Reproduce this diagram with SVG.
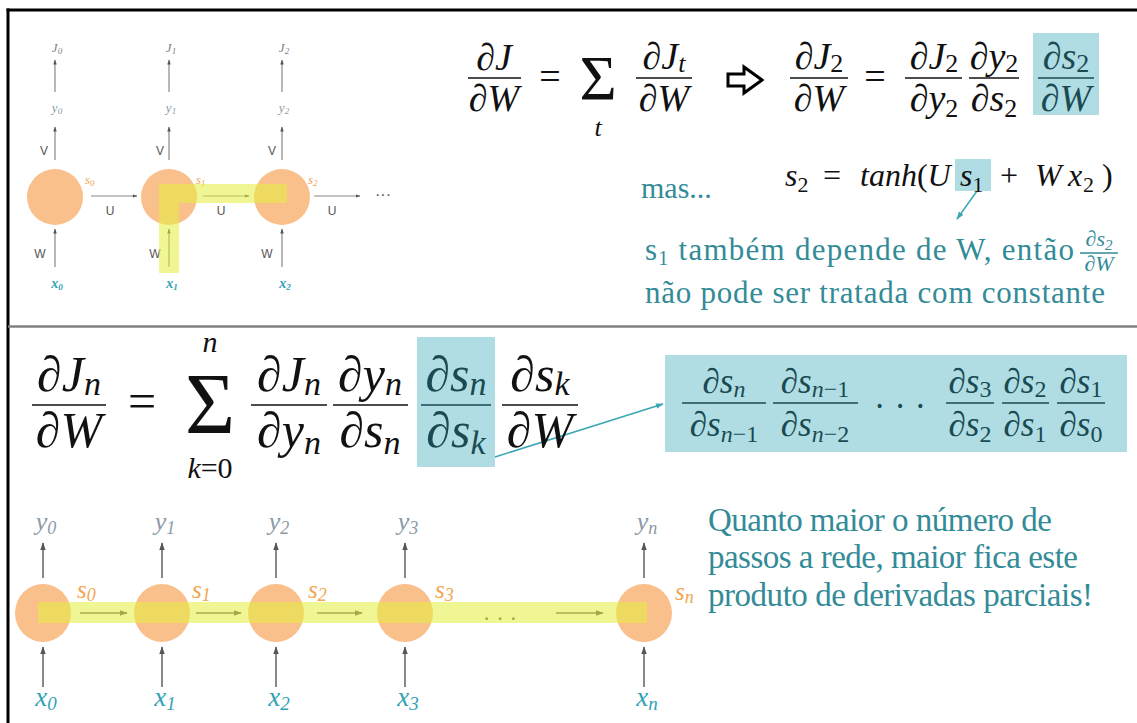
<svg xmlns="http://www.w3.org/2000/svg" width="1137" height="723" viewBox="0 0 1137 723">
<defs>
<marker id="ahs" viewBox="0 0 10 10" refX="9" refY="5" markerWidth="5" markerHeight="5" markerUnits="userSpaceOnUse" orient="auto"><path d="M0,1.5 L10,5 L0,8.5 z" fill="#555"/></marker>
<marker id="ahb" viewBox="0 0 10 10" refX="9" refY="5" markerWidth="8" markerHeight="8" markerUnits="userSpaceOnUse" orient="auto"><path d="M0,1.5 L10,5 L0,8.5 z" fill="#555"/></marker>
<marker id="aht" viewBox="0 0 10 10" refX="9" refY="5" markerWidth="8" markerHeight="8" markerUnits="userSpaceOnUse" orient="auto"><path d="M0,1.5 L10,5 L0,8.5 z" fill="#3aa7b5"/></marker>
</defs>
<style>
text{font-family:'Liberation Serif',serif}
.m{font-style:italic;fill:#111}
.up{font-style:normal}
.fl{stroke:#111;stroke-width:1.6}
.flb{stroke:#1a4a52;stroke-width:1.6}
.bt{fill:#1a4a52}
.teal{fill:#338b98}
.lbl{font-style:italic}
.sans{font-family:'Liberation Sans',sans-serif;font-size:12px;fill:#555}
.dots{font-family:'Liberation Sans',sans-serif;fill:#555}
.cell{fill:#f9c08c}
.hl{fill:#e6ef3c;opacity:.55}
.box{fill:#afdde3}
.ar{stroke:#888;stroke-width:1.2;fill:none}
.arb{stroke:#888;stroke-width:2;fill:none}
.jl{fill:#808080}
.yl{fill:#8a9aa8}
.xl{fill:#2fa2b6}
.sl{fill:#f2a552}
</style>
<rect width="1137" height="723" fill="#fff"/>
<g id="frame">
<line x1="6.5" y1="10" x2="1137" y2="10" stroke="#000" stroke-width="3"/>
<line x1="8" y1="8.5" x2="8" y2="723" stroke="#000" stroke-width="3"/>
<line x1="8" y1="326.5" x2="1137" y2="326.5" stroke="#808080" stroke-width="2.5"/>
</g>

<!-- top small RNN -->
<g id="cell-t0">
<circle class="cell" cx="55" cy="197" r="28"/>
<text class="lbl jl" font-size="13" x="57" y="52" text-anchor="middle">J<tspan font-size="9" dy="2">0</tspan></text>
<text class="lbl yl" font-size="13" x="57" y="112" text-anchor="middle">y<tspan font-size="9" dy="2">0</tspan></text>
<text class="sans" x="44" y="155" text-anchor="middle">V</text>
<text class="lbl sl" font-size="13" x="85" y="184">s<tspan font-size="9" dy="2">0</tspan></text>
<text class="sans" x="110" y="215" text-anchor="middle">U</text>
<text class="sans" x="40" y="258" text-anchor="middle">W</text>
<text class="lbl xl" font-size="14" font-weight="bold" x="57" y="288" text-anchor="middle">x<tspan font-size="9" dy="2">0</tspan></text>
</g>
<g id="cell-t1">
<circle class="cell" cx="169" cy="197" r="28"/>
<text class="lbl jl" font-size="13" x="171" y="52" text-anchor="middle">J<tspan font-size="9" dy="2">1</tspan></text>
<text class="lbl yl" font-size="13" x="171" y="112" text-anchor="middle">y<tspan font-size="9" dy="2">1</tspan></text>
<text class="sans" x="160" y="155" text-anchor="middle">V</text>
<text class="lbl sl" font-size="13" x="196" y="184">s<tspan font-size="9" dy="2">1</tspan></text>
<text class="sans" x="221" y="215" text-anchor="middle">U</text>
<text class="sans" x="155" y="258" text-anchor="middle">W</text>
<text class="lbl xl" font-size="14" font-weight="bold" x="172" y="288" text-anchor="middle">x<tspan font-size="9" dy="2">1</tspan></text>
</g>
<g id="cell-t2">
<circle class="cell" cx="282" cy="197" r="28"/>
<text class="lbl jl" font-size="13" x="284" y="52" text-anchor="middle">J<tspan font-size="9" dy="2">2</tspan></text>
<text class="lbl yl" font-size="13" x="284" y="112" text-anchor="middle">y<tspan font-size="9" dy="2">2</tspan></text>
<text class="sans" x="272" y="155" text-anchor="middle">V</text>
<text class="lbl sl" font-size="13" x="308" y="184">s<tspan font-size="9" dy="2">2</tspan></text>
<text class="sans" x="332" y="215" text-anchor="middle">U</text>
<text class="sans" x="267" y="258" text-anchor="middle">W</text>
<text class="lbl xl" font-size="14" font-weight="bold" x="285" y="288" text-anchor="middle">x<tspan font-size="9" dy="2">2</tspan></text>
</g>
<g id="dots-t">
<text class="dots" font-size="16" x="383" y="200" text-anchor="middle">···</text>
</g>

<!-- bottom RNN -->
<g id="cell-b0">
<ellipse class="cell" cx="43" cy="613" rx="28" ry="29"/>
<text class="lbl yl" font-size="26" x="46" y="530" text-anchor="middle">y<tspan font-size="18" dy="4">0</tspan></text>
<text class="lbl sl" font-size="25" x="77" y="598">s<tspan font-size="18" dy="3">0</tspan></text>
<text class="lbl xl" font-size="27" x="46" y="706" text-anchor="middle">x<tspan font-size="19" dy="4">0</tspan></text>
</g>
<g id="cell-b1">
<ellipse class="cell" cx="162" cy="613" rx="28" ry="29"/>
<text class="lbl yl" font-size="26" x="165" y="530" text-anchor="middle">y<tspan font-size="18" dy="4">1</tspan></text>
<text class="lbl sl" font-size="25" x="192" y="598">s<tspan font-size="18" dy="3">1</tspan></text>
<text class="lbl xl" font-size="27" x="165" y="706" text-anchor="middle">x<tspan font-size="19" dy="4">1</tspan></text>
</g>
<g id="cell-b2">
<ellipse class="cell" cx="276" cy="613" rx="28" ry="29"/>
<text class="lbl yl" font-size="26" x="279" y="530" text-anchor="middle">y<tspan font-size="18" dy="4">2</tspan></text>
<text class="lbl sl" font-size="25" x="308" y="598">s<tspan font-size="18" dy="3">2</tspan></text>
<text class="lbl xl" font-size="27" x="279" y="706" text-anchor="middle">x<tspan font-size="19" dy="4">2</tspan></text>
</g>
<g id="cell-b3">
<ellipse class="cell" cx="405" cy="613" rx="28" ry="29"/>
<text class="lbl yl" font-size="26" x="408" y="530" text-anchor="middle">y<tspan font-size="18" dy="4">3</tspan></text>
<text class="lbl sl" font-size="25" x="435" y="598">s<tspan font-size="18" dy="3">3</tspan></text>
<text class="lbl xl" font-size="27" x="408" y="706" text-anchor="middle">x<tspan font-size="19" dy="4">3</tspan></text>
</g>
<g id="cell-bn">
<ellipse class="cell" cx="644" cy="613" rx="28" ry="29"/>
<text class="lbl yl" font-size="26" x="647" y="530" text-anchor="middle">y<tspan font-size="18" dy="4">n</tspan></text>
<text class="lbl sl" font-size="25" x="675" y="600">s<tspan font-size="18" dy="3">n</tspan></text>
<text class="lbl xl" font-size="27" x="647" y="706" text-anchor="middle">x<tspan font-size="19" dy="4">n</tspan></text>
</g>
<g id="dots-b">
<text class="dots" font-size="24" x="500" y="620" text-anchor="middle">. . .</text>
</g>

<!-- connectors -->
<g id="connectors">
<line class="ar" x1="55" y1="92" x2="55" y2="60" marker-end="url(#ahs)"/>
<line class="ar" x1="169" y1="92" x2="169" y2="60" marker-end="url(#ahs)"/>
<line class="ar" x1="282" y1="92" x2="282" y2="60" marker-end="url(#ahs)"/>
<line class="ar" x1="55" y1="160" x2="55" y2="127" marker-end="url(#ahs)"/>
<line class="ar" x1="169" y1="160" x2="169" y2="127" marker-end="url(#ahs)"/>
<line class="ar" x1="282" y1="160" x2="282" y2="127" marker-end="url(#ahs)"/>
<line class="ar" x1="55" y1="267" x2="55" y2="229" marker-end="url(#ahs)"/>
<line class="ar" x1="169" y1="267" x2="169" y2="229" marker-end="url(#ahs)"/>
<line class="ar" x1="282" y1="267" x2="282" y2="229" marker-end="url(#ahs)"/>
<line class="ar" x1="91" y1="196" x2="137" y2="196" marker-end="url(#ahs)"/>
<line class="ar" x1="203" y1="196" x2="249" y2="196" marker-end="url(#ahs)"/>
<line class="ar" x1="314" y1="196" x2="360" y2="196" marker-end="url(#ahs)"/>

<line class="arb" x1="43" y1="578" x2="43" y2="543" marker-end="url(#ahb)"/>
<line class="arb" x1="162" y1="578" x2="162" y2="543" marker-end="url(#ahb)"/>
<line class="arb" x1="276" y1="578" x2="276" y2="543" marker-end="url(#ahb)"/>
<line class="arb" x1="405" y1="578" x2="405" y2="543" marker-end="url(#ahb)"/>
<line class="arb" x1="644" y1="578" x2="644" y2="543" marker-end="url(#ahb)"/>
<line class="arb" x1="43" y1="687" x2="43" y2="647" marker-end="url(#ahb)"/>
<line class="arb" x1="162" y1="687" x2="162" y2="647" marker-end="url(#ahb)"/>
<line class="arb" x1="276" y1="687" x2="276" y2="647" marker-end="url(#ahb)"/>
<line class="arb" x1="405" y1="687" x2="405" y2="647" marker-end="url(#ahb)"/>
<line class="arb" x1="644" y1="687" x2="644" y2="647" marker-end="url(#ahb)"/>
<line class="arb" x1="80" y1="613" x2="127" y2="613" marker-end="url(#ahb)"/>
<line class="arb" x1="196" y1="613" x2="241" y2="613" marker-end="url(#ahb)"/>
<line class="arb" x1="317" y1="613" x2="362" y2="613" marker-end="url(#ahb)"/>
<line class="arb" x1="556" y1="613" x2="603" y2="613" marker-end="url(#ahb)"/>

<line x1="977" y1="191" x2="957" y2="219" stroke="#3aa7b5" stroke-width="1.5" marker-end="url(#aht)"/>
<line x1="495" y1="457" x2="663" y2="404" stroke="#3aa7b5" stroke-width="1.5" marker-end="url(#aht)"/>
</g>

<g id="highlights">
<path class="hl" d="M159,184 H287 V203 H179 V273 H159 Z"/>
<rect class="hl" x="38" y="602" width="609" height="21"/>
</g>

<!-- top equation -->
<g id="eq-top">
<g font-size="38">
<text class="m" x="494" y="70" text-anchor="middle">∂J</text>
<line class="fl" x1="468" y1="78" x2="521" y2="78"/>
<text class="m" x="494" y="111" text-anchor="middle">∂W</text>
<text class="m up" x="550" y="89" text-anchor="middle">=</text>
</g>
<text class="m up" font-size="64" x="598" y="100" text-anchor="middle">Σ</text>
<text class="m" font-size="26" x="598" y="136" text-anchor="middle">t</text>
<g font-size="38">
<text class="m" x="664" y="69" text-anchor="middle">∂J<tspan font-size="26" dy="3">t</tspan></text>
<line class="fl" x1="636" y1="78" x2="692" y2="78"/>
<text class="m" x="664" y="111" text-anchor="middle">∂W</text>
</g>
<polygon points="728,74 744,74 744,67 762,80 744,93 744,86 728,86" fill="#fff" stroke="#000" stroke-width="3"/>
<g font-size="38">
<text class="m" x="819" y="69" text-anchor="middle">∂J<tspan class="up" font-size="26" dy="3">2</tspan></text>
<line class="fl" x1="790" y1="78" x2="848" y2="78"/>
<text class="m" x="819" y="111" text-anchor="middle">∂W</text>
<text class="m up" x="875" y="89" text-anchor="middle">=</text>
<text class="m" x="934" y="69" text-anchor="middle">∂J<tspan class="up" font-size="26" dy="3">2</tspan></text>
<line class="fl" x1="905" y1="78" x2="962" y2="78"/>
<text class="m" x="934" y="111" text-anchor="middle">∂y<tspan class="up" font-size="26" dy="6">2</tspan></text>
<text class="m" x="994" y="69" text-anchor="middle">∂y<tspan class="up" font-size="26" dy="3">2</tspan></text>
<line class="fl" x1="969" y1="78" x2="1019" y2="78"/>
<text class="m" x="994" y="111" text-anchor="middle">∂s<tspan class="up" font-size="26" dy="6">2</tspan></text>
<rect class="box" x="1033" y="33" width="66" height="82"/>
<text class="m bt" x="1066" y="69" text-anchor="middle">∂s<tspan class="up" font-size="26" dy="3">2</tspan></text>
<line class="flb" x1="1038" y1="78" x2="1094" y2="78"/>
<text class="m bt" x="1066" y="111" text-anchor="middle">∂W</text>
</g>
</g>

<!-- s2 formula -->
<g id="eq-s2">
<rect class="box" x="955" y="159" width="36" height="32"/>
<text class="m" font-size="32" x="785" y="186">s<tspan class="up" font-size="22" dy="6">2</tspan></text>
<text class="m up" font-size="32" x="823" y="186">=</text>
<text class="m" font-size="32" x="860" y="186">tanh<tspan class="up">(</tspan>U</text>
<text class="m" font-size="32" x="960" y="186">s<tspan class="up" font-size="22" dy="6">1</tspan></text>
<text class="m up" font-size="32" x="1000" y="186">+</text>
<text class="m" font-size="32" y="186"><tspan x="1035">W</tspan><tspan x="1068">x</tspan><tspan class="up" x="1083" font-size="22" dy="6">2</tspan><tspan class="up" x="1102" dy="-6">)</tspan></text>
</g>
<g id="text-top">
<text class="teal" font-size="30" x="641" y="198">mas...</text>
<text class="teal" font-size="31" x="645" y="260" textLength="429" lengthAdjust="spacing">s<tspan font-size="20" dy="5">1</tspan><tspan dy="-5"> também depende de W, então</tspan></text>
<text font-family="DejaVu Sans,sans-serif" font-style="italic" font-size="22" fill="#338b98" x="1099" y="246" text-anchor="middle">∂s<tspan font-size="15" dy="4">2</tspan></text>
<line x1="1080" y1="253" x2="1118" y2="253" stroke="#338b98" stroke-width="1.3"/>
<text font-family="DejaVu Sans,sans-serif" font-style="italic" font-size="22" fill="#338b98" x="1099" y="271" text-anchor="middle">∂W</text>
<text class="teal" font-size="31" x="645" y="303" textLength="460" lengthAdjust="spacing">não pode ser tratada com constante</text>
</g>

<!-- bottom equation -->
<g id="eq-bottom" font-size="50">
<text class="m" x="69" y="391" text-anchor="middle">∂J<tspan font-size="34" dy="4">n</tspan></text>
<line class="fl" x1="32" y1="405" x2="106" y2="405" stroke-width="2"/>
<text class="m" x="69" y="447" text-anchor="middle">∂W</text>
<text class="m up" x="142" y="418" text-anchor="middle">=</text>
<text class="m up" font-size="86" x="210" y="433" text-anchor="middle">Σ</text>
<text class="m" font-size="30" x="210" y="352" text-anchor="middle">n</text>
<text class="m" font-size="30" x="210" y="478" text-anchor="middle">k<tspan class="up">=0</tspan></text>
<text class="m" x="289" y="391" text-anchor="middle">∂J<tspan font-size="34" dy="4">n</tspan></text>
<line class="fl" x1="251" y1="405" x2="327" y2="405" stroke-width="2"/>
<text class="m" x="289" y="447" text-anchor="middle">∂y<tspan font-size="34" dy="7">n</tspan></text>
<text class="m" x="370" y="391" text-anchor="middle">∂y<tspan font-size="34" dy="4">n</tspan></text>
<line class="fl" x1="333" y1="405" x2="408" y2="405" stroke-width="2"/>
<text class="m" x="370" y="447" text-anchor="middle">∂s<tspan font-size="34" dy="7">n</tspan></text>
<rect class="box" x="417" y="337" width="78" height="130"/>
<text class="m bt" x="456" y="391" text-anchor="middle">∂s<tspan font-size="34" dy="4">n</tspan></text>
<line class="flb" x1="421" y1="405" x2="491" y2="405" stroke-width="2"/>
<text class="m bt" x="456" y="447" text-anchor="middle">∂s<tspan font-size="34" dy="7">k</tspan></text>
<text class="m" x="540" y="391" text-anchor="middle">∂s<tspan font-size="34" dy="4">k</tspan></text>
<line class="fl" x1="502" y1="405" x2="578" y2="405" stroke-width="2"/>
<text class="m" x="540" y="447" text-anchor="middle">∂W</text>
</g>

<!-- product box -->
<g id="product" font-size="35">
<rect class="box" x="665" y="355" width="462" height="97"/>
<text class="m bt" x="724" y="393" text-anchor="middle">∂s<tspan font-size="24" dy="4">n</tspan></text>
<line class="flb" x1="682" y1="403" x2="766" y2="403"/>
<text class="m bt" x="724" y="436" text-anchor="middle">∂s<tspan font-size="24" dy="6">n<tspan class="up">−1</tspan></tspan></text>
<text class="m bt" x="815" y="393" text-anchor="middle">∂s<tspan font-size="24" dy="4">n<tspan class="up">−1</tspan></tspan></text>
<line class="flb" x1="773" y1="403" x2="858" y2="403"/>
<text class="m bt" x="815" y="436" text-anchor="middle">∂s<tspan font-size="24" dy="6">n<tspan class="up">−2</tspan></tspan></text>
<text class="m bt up" x="900" y="418" text-anchor="middle">· · ·</text>
<text class="m bt" x="970" y="393" text-anchor="middle">∂s<tspan class="up" font-size="24" dy="4">3</tspan></text>
<line class="flb" x1="946" y1="403" x2="994" y2="403"/>
<text class="m bt" x="970" y="436" text-anchor="middle">∂s<tspan class="up" font-size="24" dy="6">2</tspan></text>
<text class="m bt" x="1025" y="393" text-anchor="middle">∂s<tspan class="up" font-size="24" dy="4">2</tspan></text>
<line class="flb" x1="1002" y1="403" x2="1049" y2="403"/>
<text class="m bt" x="1025" y="436" text-anchor="middle">∂s<tspan class="up" font-size="24" dy="6">1</tspan></text>
<text class="m bt" x="1081" y="393" text-anchor="middle">∂s<tspan class="up" font-size="24" dy="4">1</tspan></text>
<line class="flb" x1="1057" y1="403" x2="1105" y2="403"/>
<text class="m bt" x="1081" y="436" text-anchor="middle">∂s<tspan class="up" font-size="24" dy="6">0</tspan></text>
</g>

<g id="text-bottom">
<text class="teal" font-size="33" x="708" y="531" textLength="344" lengthAdjust="spacing">Quanto maior o número de</text>
<text class="teal" font-size="33" x="708" y="568" textLength="370" lengthAdjust="spacing">passos a rede, maior fica este</text>
<text class="teal" font-size="33" x="708" y="606" textLength="385" lengthAdjust="spacing">produto de derivadas parciais!</text>
</g>
</svg>
